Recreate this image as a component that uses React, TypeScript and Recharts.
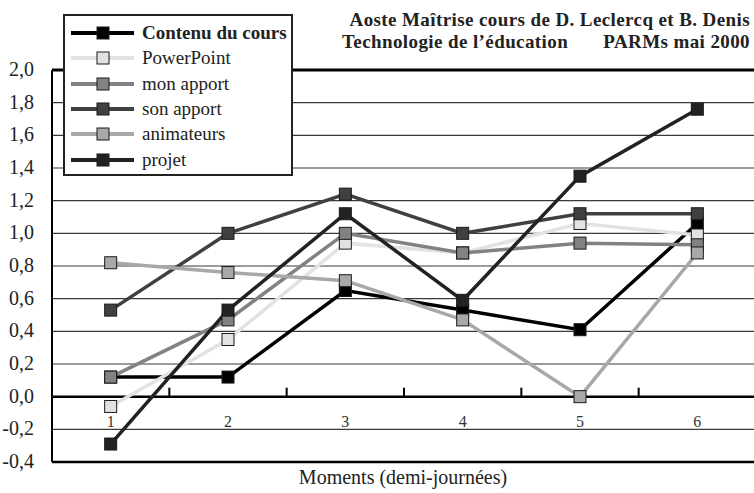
import { LineChart, Line, XAxis, YAxis, CartesianGrid, ReferenceLine } from 'recharts'

const moments = [1, 2, 3, 4, 5, 6]
const contenu = [0.12, 0.12, 0.65, 0.53, 0.41, 1.06]
const powerpoint = [-0.06, 0.35, 0.94, 0.88, 1.06, 0.99]
const monApport = [0.12, 0.47, 1.0, 0.88, 0.94, 0.93]
const sonApport = [0.53, 1.0, 1.24, 1.0, 1.12, 1.12]
const animateurs = [0.82, 0.76, 0.71, 0.47, 0.0, 0.88]
const projet = [-0.29, 0.53, 1.12, 0.59, 1.35, 1.76]
const yTicks = [-0.4, -0.2, 0, 0.2, 0.4, 0.6, 0.8, 1.0, 1.2, 1.4, 1.6, 1.8, 2.0]
const betweenTicks = [1.5, 2.5, 3.5, 4.5, 5.5]

const series = [
  { key: 'contenu', name: 'Contenu du cours', color: '#000000', bold: true },
  { key: 'powerpoint', name: 'PowerPoint', color: '#e2e2e2', bold: false },
  { key: 'monApport', name: 'mon apport', color: '#828282', bold: false },
  { key: 'sonApport', name: 'son apport', color: '#404040', bold: false },
  { key: 'animateurs', name: 'animateurs', color: '#a8a8a8', bold: false },
  { key: 'projet', name: 'projet', color: '#222222', bold: false },
]

const data = moments.map((m, i) => ({
  m,
  contenu: contenu[i],
  powerpoint: powerpoint[i],
  monApport: monApport[i],
  sonApport: sonApport[i],
  animateurs: animateurs[i],
  projet: projet[i],
}))

const FONT = 'Liberation Serif, serif'

// square marker
const squareDot = (color: string) => (props: any) => {
  const { cx, cy, index } = props
  if (cx == null || cy == null) return <g key={index} />
  return <rect key={index} x={cx - 6} y={cy - 6} width={12} height={12} fill={color} stroke="#1a1a1a" strokeWidth={1} />
}

const fmt = (v: number) => v.toFixed(1).replace('.', ',')

const MomentTick = (props: any) => {
  const { x, y, payload } = props
  return (
    <text x={x} y={y - 43} textAnchor="middle" fontFamily={FONT} fontSize={16} fill="#333">
      {payload.value}
    </text>
  )
}

const ValueTick = (props: any) => {
  const { x, y, payload } = props
  return (
    <text x={x - 10} y={y + 6} textAnchor="end" fontFamily={FONT} fontSize={20} fill="#222">
      {fmt(payload.value)}
    </text>
  )
}

const LegendBox = () => (
  <div
    style={{
      position: 'absolute',
      left: 63,
      top: 14,
      width: 226,
      height: 158,
      border: '2px solid #222',
      background: '#fff',
      fontSize: 19,
      color: '#222',
    }}
  >
    {series.map((s, i) => (
      <div key={s.key} style={{ position: 'absolute', left: 0, top: 5 + i * 25.3, height: 24, display: 'flex', alignItems: 'center' }}>
        <svg width={77} height={24}>
          <line x1={6} y1={12} x2={69} y2={12} stroke={s.color} strokeWidth={4} />
          <rect x={32} y={6} width={12} height={12} fill={s.color} stroke="#1a1a1a" strokeWidth={1} />
        </svg>
        <span style={{ fontWeight: s.bold ? 'bold' : 'normal', whiteSpace: 'nowrap' }}>{s.name}</span>
      </div>
    ))}
  </div>
)

export default function App() {
  return (
    <div style={{ position: 'absolute', left: 0, top: 0, width: 754, height: 493, background: '#fff', overflow: 'hidden', fontFamily: FONT }}>
      <LineChart width={760} height={493} data={data} margin={{ top: 70, right: 4, bottom: 0, left: 0 }}>
        <CartesianGrid horizontal vertical={false} stroke="#3a3a3a" strokeWidth={1.2} />
        <XAxis
          dataKey="m"
          type="number"
          domain={[0.5, 6.5]}
          ticks={moments}
          axisLine={false}
          tickLine={false}
          tick={<MomentTick />}
          height={31}
        />
        <YAxis
          domain={[-0.4, 2.0]}
          ticks={yTicks}
          width={52}
          axisLine={{ stroke: '#000', strokeWidth: 2 }}
          tickLine={false}
          tick={<ValueTick />}
        />
        <ReferenceLine y={2.0} stroke="#000" strokeWidth={3} />
        <ReferenceLine y={-0.4} stroke="#000" strokeWidth={2.5} />
        <ReferenceLine y={0} stroke="#000" strokeWidth={2.5} />
        {betweenTicks.map((t) => (
          <ReferenceLine key={t} segment={[{ x: t, y: 0 }, { x: t, y: 0.055 }]} stroke="#000" strokeWidth={2} />
        ))}
        {series.map((s) => (
          <Line
            key={s.key}
            dataKey={s.key}
            name={s.name}
            stroke={s.color}
            strokeWidth={3.5}
            dot={squareDot(s.color)}
            activeDot={false}
            isAnimationActive={false}
          />
        ))}
      </LineChart>
      <LegendBox />
      <div
        style={{
          position: 'absolute',
          left: 342,
          width: 408,
          top: 9,
          fontWeight: 'bold',
          fontSize: 19,
          lineHeight: '22px',
          letterSpacing: 0.4,
          color: '#222',
          whiteSpace: 'nowrap',
        }}
      >
        <div style={{ textAlign: 'right' }}>Aoste Maîtrise cours de D. Leclercq et B. Denis</div>
        <div style={{ display: 'flex', justifyContent: 'space-between' }}>
          <span>Technologie de l’éducation</span>
          <span>PARMs mai 2000</span>
        </div>
      </div>
      <div
        style={{
          position: 'absolute',
          left: 52,
          width: 702,
          top: 466,
          textAlign: 'center',
          fontSize: 20,
          color: '#222',
        }}
      >
        Moments (demi-journées)
      </div>
    </div>
  )
}
